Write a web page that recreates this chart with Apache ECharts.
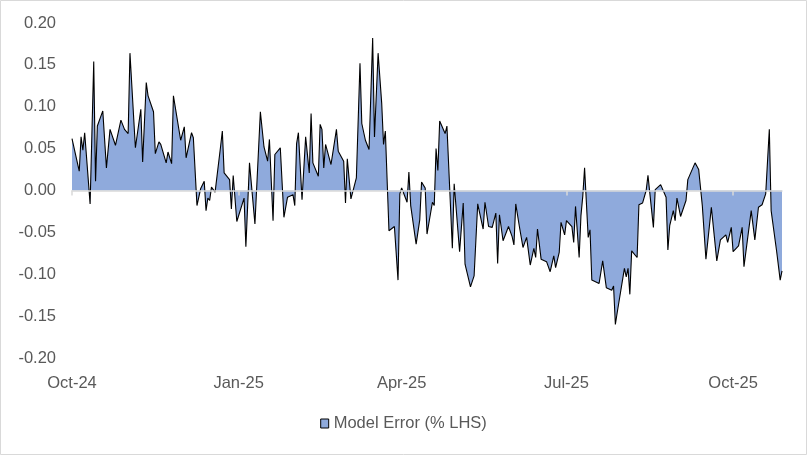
<!DOCTYPE html>
<html>
<head>
<meta charset="utf-8">
<script src="https://cdn.jsdelivr.net/npm/echarts@6/dist/echarts.min.js"></script>
<style>
html,body{margin:0;padding:0;background:#fff;}
#chart{width:807px;height:455px;}
</style>
</head>
<body>
<div id="chart"></div>
<script>
// Start date of the series (day offsets below are counted from it)
const startDate = '2024-10-01';
const endDate = '2025-10-28';
const seriesName = 'Model Error (% LHS)';
const tickDates = ['2024-10-01', '2025-01-01', '2025-04-01', '2025-07-01', '2025-10-01'];
const monthNames = ['Jan','Feb','Mar','Apr','May','Jun','Jul','Aug','Sep','Oct','Nov','Dec'];

const dayOffsets = [
  0,4,5,6,7,10,12,13,14,17,19,21,24,27,29,31,32,35,38,39,
  41,42,45,46,48,49,52,53,55,56,60,62,63,66,67,69,71,73,74,75,
  76,77,79,80,82,83,84,87,88,89,91,95,96,98,101,104,106,108,109,111,
  112,115,117,118,119,122,123,124,125,127,129,131,132,133,136,137,138,139,140,143,
  146,147,150,151,152,154,157,159,160,162,164,165,166,167,169,171,172,173,175,178,
  180,181,182,185,186,187,190,192,193,195,196,199,200,201,202,203,206,207,210,211,
  214,216,217,220,222,224,227,228,230,232,234,235,236,238,241,243,244,245,247,249,
  250,251,253,255,256,257,259,262,264,266,267,269,270,272,273,276,277,278,280,281,
  282,283,285,286,287,291,293,295,298,299,300,301,305,306,307,308,309,312,313,315,
  317,318,321,322,325,328,329,330,332,333,334,336,339,340,341,344,346,348,350,353,
  356,357,358,361,362,364,365,368,370,371,375,377,379,381,383,385,386,389,391,392
];
const values = [
  0.062,0.023,0.064,0.048,0.069,-0.016,0.154,0.011,0.077,0.095,0.027,0.073,0.054,0.084,0.073,0.068,0.164,0.051,0.097,0.034,
  0.129,0.113,0.094,0.044,0.058,0.055,0.033,0.046,0.032,0.113,0.060,0.076,0.039,0.069,0.063,-0.018,0.002,0.011,-0.024,-0.009,
  -0.012,0.004,-0.002,-0.003,0.052,0.071,0.021,0.013,-0.022,0.018,-0.037,-0.009,-0.067,0.033,-0.040,0.094,0.052,0.035,0.061,-0.036,
  0.043,0.051,-0.032,-0.034,-0.008,-0.005,-0.018,0.056,0.069,-0.011,0.064,0.021,0.092,0.033,0.017,0.079,0.073,0.027,0.055,0.031,
  0.073,0.047,0.035,-0.015,0.038,-0.010,0.015,0.152,0.080,0.060,0.049,0.049,0.182,0.064,0.164,0.104,0.055,0.071,-0.048,-0.043,
  -0.107,-0.004,0.003,-0.014,0.022,-0.018,-0.064,-0.035,0.010,0.003,-0.052,-0.014,-0.018,0.050,0.024,0.083,0.068,0.077,-0.069,0.008,
  -0.073,-0.015,-0.088,-0.115,-0.102,-0.016,-0.046,-0.014,-0.043,-0.044,-0.027,-0.087,-0.029,-0.060,-0.043,-0.055,-0.065,-0.016,-0.043,-0.068,
  -0.068,-0.056,-0.089,-0.069,-0.080,-0.046,-0.082,-0.085,-0.097,-0.078,-0.092,-0.074,-0.038,-0.053,-0.036,-0.043,-0.062,-0.019,-0.080,-0.030,
  -0.007,0.027,-0.056,-0.047,-0.107,-0.111,-0.084,-0.116,-0.119,-0.114,-0.160,-0.146,-0.093,-0.103,-0.093,-0.124,-0.072,-0.080,-0.017,-0.015,
  0.000,0.018,-0.044,0.001,0.007,-0.008,-0.071,-0.042,-0.024,-0.036,-0.009,-0.031,-0.012,0.013,0.014,0.033,0.025,-0.018,-0.082,-0.020,
  -0.084,-0.086,-0.059,-0.053,-0.062,-0.044,-0.073,-0.066,-0.044,-0.091,-0.024,-0.059,-0.020,-0.017,-0.004,0.073,-0.024,-0.072,-0.107,-0.096
];

function ts(s){ const p = s.split('-').map(Number); return Date.UTC(p[0], p[1]-1, p[2]); }
const DAY = 86400000;
const t0 = ts(startDate);
const seriesData = dayOffsets.map((d, i) => [t0 + d * DAY, values[i]]);
const tickTs = tickDates.map(ts);

function dateLabel(v) {
  const d = new Date(v);
  return monthNames[d.getUTCMonth()] + '-' + String(d.getUTCFullYear()).slice(2);
}

const FONT = 'Liberation Sans';
const chart = echarts.init(document.getElementById('chart'), null, {renderer: 'canvas'});
chart.setOption({
  animation: false,
  backgroundColor: '#ffffff',
  textStyle: {fontFamily: FONT},
  graphic: [{
    type: 'rect', silent: true, z: 100,
    shape: {x: 0.5, y: 0.5, width: 806, height: 454},
    style: {fill: 'none', stroke: '#d9d9d9', lineWidth: 1}
  }],
  grid: {left: 72, right: 25, top: 23, height: 335, containLabel: false},
  legend: {
    bottom: 18, left: 'center',
    itemWidth: 8, itemHeight: 9, itemGap: 6,
    textStyle: {fontFamily: FONT, fontSize: 16.5, color: '#595959'},
    data: [{name: seriesName, icon: 'rect', itemStyle: {color: '#8FAADC', borderColor: '#000000', borderWidth: 1}}]
  },
  xAxis: [{
    type: 'value', min: ts(startDate), max: ts(endDate), z: 10,
    axisLine: {show: true, onZero: true, lineStyle: {color: '#d9d9d9', width: 1.5}},
    axisTick: {show: true, customValues: tickTs, length: 5, lineStyle: {color: '#d9d9d9', width: 1.5}},
    axisLabel: {show: false},
    splitLine: {show: false}
  }, {
    type: 'value', min: ts(startDate), max: ts(endDate), position: 'bottom',
    axisLine: {show: false, onZero: false},
    axisTick: {show: false},
    splitLine: {show: false},
    axisLabel: {
      show: true, customValues: tickTs, margin: 17,
      fontFamily: FONT, fontSize: 16.5, color: '#595959',
      formatter: dateLabel
    }
  }],
  yAxis: {
    type: 'value', min: -0.2, max: 0.2, interval: 0.05,
    axisLine: {show: false}, axisTick: {show: false}, splitLine: {show: false},
    axisLabel: {
      margin: 16, fontFamily: FONT, fontSize: 16.5, color: '#595959',
      formatter: function (v) { return (Math.abs(v) < 1e-9 ? 0 : v).toFixed(2); }
    }
  },
  series: [{
    name: seriesName, type: 'line', xAxisIndex: 0,
    data: seriesData, showSymbol: false, symbol: 'none',
    lineStyle: {color: '#000000', width: 1.1},
    itemStyle: {color: '#8FAADC', borderColor: '#000000', borderWidth: 1},
    areaStyle: {color: '#8FAADC', opacity: 1},
    z: 2
  }]
});
</script>
</body>
</html>
